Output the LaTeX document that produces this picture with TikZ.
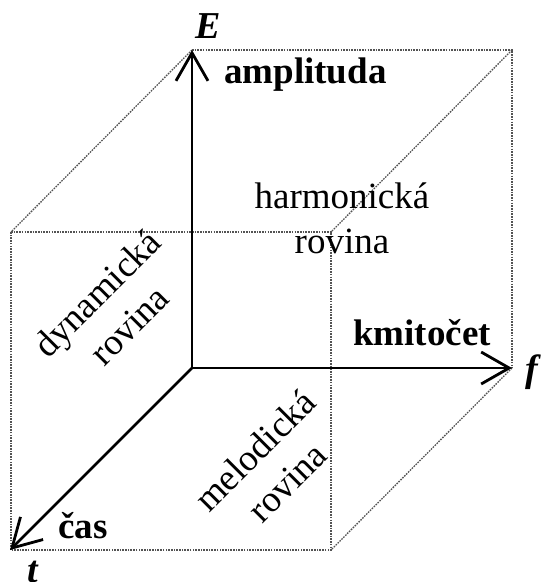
\documentclass[tikz,border=0pt]{standalone}
\usepackage{fontspec}
\setmainfont{Liberation Serif}
\usetikzlibrary{arrows.meta}
\tikzset{
  edge/.style={line width=1.3pt, gray!65!black, dash pattern=on 1.6pt off 1.1pt},
  axis/.style={line width=2.8pt, -{Straight Barb[length=28pt,width=32pt,line width=2.8pt]}},
  lbl/.style={inner sep=0pt, font=\fontsize{37}{45}\selectfont},
  blbl/.style={lbl, font=\fontsize{37}{45}\selectfont\bfseries},
  symb/.style={lbl, font=\fontsize{38}{45}\selectfont\bfseries\itshape},
  plane/.style={lbl, align=center}
}
\begin{document}
\begin{tikzpicture}[x=1pt,y=-1pt]
\useasboundingbox (0,0) rectangle (543,582);
% origin and axis tips
\coordinate (O) at (192,368);
\coordinate (Etip) at (192,50);
\coordinate (Ftip) at (512,368);
\coordinate (Ttip) at (10,550);
% remaining cube corners
\coordinate (B2) at (512,50);
\coordinate (A1) at (11,232);
\coordinate (A2) at (331,232);
\coordinate (A3) at (331,550);
\coordinate (A4) at (11,550);
% cube edges
\draw[edge] (A1) -- (A2) -- (A3) -- (A4) -- cycle;
\draw[edge] (Etip) -- (B2) -- (Ftip);
\draw[edge] (Etip) -- (A1);
\draw[edge] (B2) -- (A2);
\draw[edge] (Ftip) -- (A3);
% axes
\draw[axis] (O) -- (Etip);
\draw[axis] (O) -- (Ftip);
\draw[axis] (O) -- (Ttip);
% axis symbols
\node[symb, anchor=base] (E) at (208,38) {E};
\node[symb, anchor=base] (f) at (532,381) {f};
\node[symb, anchor=base] (t) at (33,582) {t};
% axis names
\node[blbl, anchor=base west] (amp) at (224,83) {amplituda};
\node[blbl, anchor=base west] (kmit) at (353,345) {kmitočet};
\node[blbl, anchor=base west] (cas) at (58,538) {čas};
% plane names
\node[plane] (harm) at (342,218) {harmonická\\rovina};
\node[plane, rotate=45] (dyn) at (113,309) {dynamická\\rovina};
\node[plane, rotate=45] (mel) at (271,466) {melodická\\rovina};
\end{tikzpicture}
\end{document}
